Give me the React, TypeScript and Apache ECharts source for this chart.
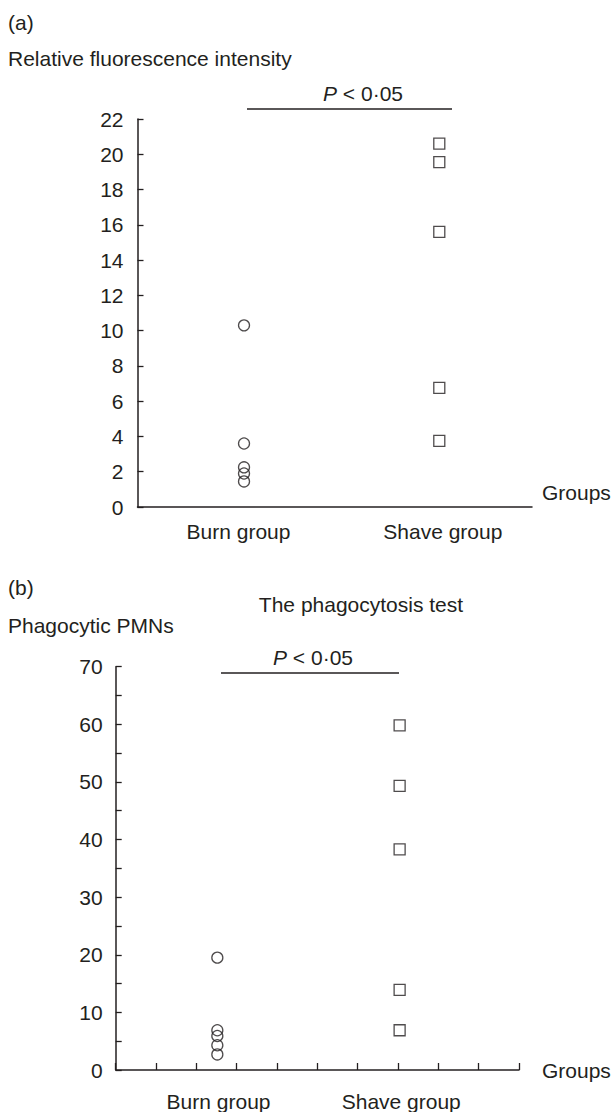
import React, { useEffect, useRef } from "react";
import * as echarts from "echarts";

// ---- data ----
const groupNames = ["Burn group", "Shave group"];
// panel (a): relative fluorescence intensity
const burnA = [10.3, 3.6, 2.25, 1.9, 1.45];
const shaveA = [20.6, 19.55, 15.6, 6.75, 3.75];
const groupXA = [2.7, 7.65];
const labelXA = [2.56, 7.74];
// panel (b): phagocytic PMNs
const burnB = [19.5, 6.9, 5.9, 4.3, 2.7];
const shaveB = [59.8, 49.3, 38.3, 13.9, 6.9];
const groupXB = [2.52, 7.04];
const labelXB = [2.55, 7.08];

const FONT = '"Liberation Sans", Arial, Helvetica, sans-serif';
const INK = "#231f20";
const FS = 21;

export default function App() {
  const ref = useRef<HTMLDivElement>(null);
  useEffect(() => {
    document.body.style.margin = "0";
    const chart = echarts.init(ref.current!, null, { renderer: "svg" });

    const axisLine = { show: true, lineStyle: { color: INK, width: 1.5 } };
    const txt = { color: INK, fontSize: FS, fontFamily: FONT };
    const pick = (arr: number[], names: string[], v: number) => {
      let best = 0;
      arr.forEach((a, i) => {
        if (Math.abs(a - v) < Math.abs(arr[best] - v)) best = i;
      });
      return names[best];
    };

    const scatterStyle = (sym: string) => ({
      type: "scatter",
      symbol: sym,
      symbolSize: 11,
      itemStyle: { color: "rgba(0,0,0,0)", borderColor: INK, borderWidth: 1.3 },
      silent: true,
    });

    const pText = (x: number, y: number) => ({
      type: "text",
      x,
      y,
      style: {
        text: "{i|P} < 0·05",
        fill: INK,
        font: `${FS}px ${FONT}`,
        align: "center",
        verticalAlign: "middle",
        rich: { i: { fontStyle: "italic", fontSize: FS, fontFamily: FONT, fill: INK } },
      },
    });

    const plainText = (text: string, x: number, y: number, align = "left") => ({
      type: "text",
      x,
      y,
      style: {
        text,
        fill: INK,
        font: `${FS}px ${FONT}`,
        align,
        verticalAlign: "middle",
      },
    });

    chart.setOption({
      animation: false,
      textStyle: { fontFamily: FONT },
      grid: [
        { left: 137.5, top: 119, width: 394.5, height: 388 },
        { left: 115.7, top: 666.7, width: 403.3, height: 403.3 },
      ],
      xAxis: [
        {
          type: "value",
          gridIndex: 0,
          min: 0,
          max: 10,
          interval: 1,
          axisLine,
          axisTick: { show: false },
          splitLine: { show: false },
          axisLabel: {
            ...txt,
            customValues: labelXA,
            margin: 14,
            formatter: (v: number) => pick(labelXA, groupNames, v),
          },
          name: "Groups",
          nameLocation: "end",
          nameGap: 10,
          nameTextStyle: { ...txt, verticalAlign: "bottom", lineHeight: 30 },
        },
        {
          type: "value",
          gridIndex: 1,
          min: 0,
          max: 10,
          interval: 1,
          axisLine,
          axisTick: { show: true, inside: true, length: 7, lineStyle: { color: INK, width: 1.3 } },
          splitLine: { show: false },
          axisLabel: {
            ...txt,
            customValues: labelXB,
            margin: 21,
            formatter: (v: number) => pick(labelXB, groupNames, v),
          },
          name: "Groups",
          nameLocation: "end",
          nameGap: 23,
          nameTextStyle: { ...txt },
        },
      ],
      yAxis: [
        {
          type: "value",
          gridIndex: 0,
          min: 0,
          max: 22,
          interval: 2,
          axisLine,
          axisTick: { show: true, inside: true, length: 6, lineStyle: { color: INK, width: 1.3 } },
          splitLine: { show: false },
          axisLabel: { ...txt, margin: 14 },
        },
        {
          type: "value",
          gridIndex: 1,
          min: 0,
          max: 70,
          interval: 5,
          axisLine,
          axisTick: { show: true, inside: true, length: 6, lineStyle: { color: INK, width: 1.3 } },
          splitLine: { show: false },
          axisLabel: {
            ...txt,
            margin: 13,
            formatter: (v: number) => (v % 10 === 0 ? String(v) : ""),
          },
        },
      ],
      series: [
        { ...scatterStyle("circle"), xAxisIndex: 0, yAxisIndex: 0, data: burnA.map((v) => [groupXA[0], v]) },
        { ...scatterStyle("rect"), xAxisIndex: 0, yAxisIndex: 0, data: shaveA.map((v) => [groupXA[1], v]) },
        { ...scatterStyle("circle"), xAxisIndex: 1, yAxisIndex: 1, data: burnB.map((v) => [groupXB[0], v]) },
        { ...scatterStyle("rect"), xAxisIndex: 1, yAxisIndex: 1, data: shaveB.map((v) => [groupXB[1], v]) },
      ],
      graphic: [
        plainText("(a)", 8, 22),
        plainText("Relative fluorescence intensity", 8, 58),
        pText(363, 93),
        { type: "line", shape: { x1: 247, y1: 109, x2: 452, y2: 109 }, style: { stroke: INK, lineWidth: 1.5 } },
        plainText("(b)", 8, 587),
        plainText("The phagocytosis test", 361, 604, "center"),
        plainText("Phagocytic PMNs", 8, 625),
        pText(313, 657),
        { type: "line", shape: { x1: 221, y1: 673, x2: 399, y2: 673 }, style: { stroke: INK, lineWidth: 1.5 } },
      ],
    });
    return () => chart.dispose();
  }, []);
  return <div ref={ref} style={{ width: 615, height: 1112 }} />;
}
